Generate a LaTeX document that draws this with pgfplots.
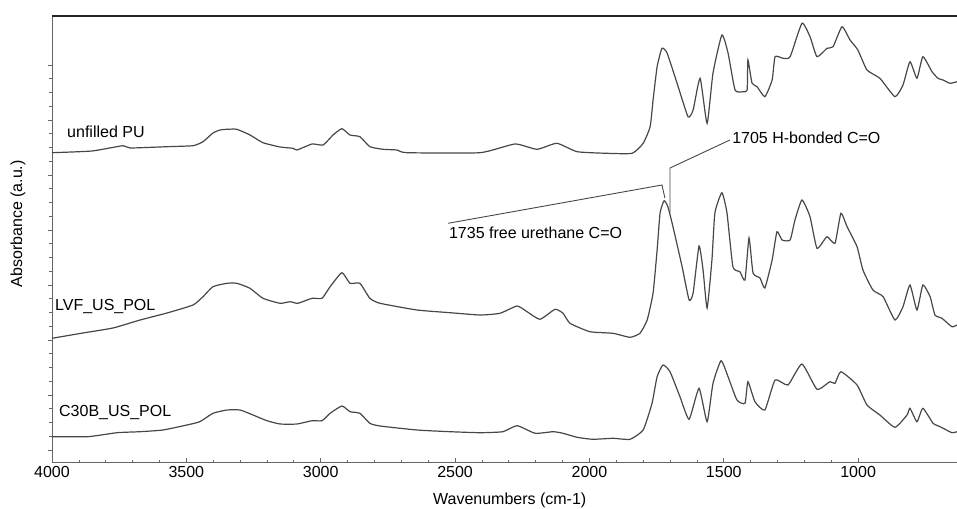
\documentclass[border=0pt]{standalone}
\usepackage{fontspec}
\setmainfont{Liberation Sans}
\usepackage{pgfplots}
\pgfplotsset{compat=1.18}
\definecolor{spec}{HTML}{474747}
\newcommand\lbl{\fontsize{16bp}{19bp}\selectfont}

\begin{document}
\begin{tikzpicture}
\begin{axis}[
  name=ax, at={(0,0)}, anchor=south west,
  scale only axis, width=913.6bp, height=446bp,
  x dir=reverse, xmin=600, xmax=4000, ymin=0, ymax=446,
  axis line style={black!60, line width=0.9bp},
  xtick={1000,1500,2000,2500,3000,3500,4000}, minor x tick num=4,
  ytick={12,67,122,177,232,287,342,397}, minor y tick num=3,
  yticklabels={},
  xtick pos=bottom, ytick pos=left,
  xtick align=inside, ytick align=outside,
  major tick length=4bp, minor tick length=2.5bp,
  tick style={black!60, line width=0.7bp},
  /pgf/number format/1000 sep={},
  /pgf/number format/assume math mode=true,
  tick label style={font=\lbl},
  xticklabel style={yshift=-1bp},
  xlabel={Wavenumbers (cm-1)},
  ylabel={Absorbance (a.u.)},
  label style={font=\lbl},
  xlabel style={at={(axis description cs:0.501,-0.0852)}, anchor=center},
  ylabel style={at={(axis description cs:-0.0372,0.534)}, anchor=center},
  clip=false,
]
% unfilled PU
\addplot[spec, no markers, line width=1.2bp, smooth, tension=0.3] coordinates {
(4000,309.3)(3851,311)(3736,316.3)(3710,314)(3572,315.3)(3475,316.3)(3438,320.3)
(3401,329)(3375,332)(3349,332.7)(3312,332.7)(3263,327)(3215,319.3)(3151,315)
(3103,313.7)(3088,312)(3032,318)(2991,317)(2954,327)(2921,333.3)(2891,327)
(2854,325.3)(2817,315.3)(2768,312.7)(2716,312)(2679,309.3)(2407,309.3)
(2277,318)(2195,312.7)(2121,318.7)(2046,310.3)(1935,308.7)(1841,308.7)
(1800,318.7)(1774,335.3)(1763,362)(1748,395.3)(1730,413.7)(1711,409)
(1674,379)(1633,345.3)(1614,352)(1588,383.7)(1562,338.7)(1540,389)
(1507,427)(1484,409)(1458,372)(1428,370.3)(1413,372)(1410,402)(1395,379)
(1376,375.3)(1347,365.3)(1320,382)(1309,405.3)(1280,403.7)(1253,405.3)
(1209,438.7)(1179,425.3)(1153,405.3)(1116,413.7)(1093,415.3)(1060,435.3)
(1030,422)(1001,412)(967,392)(919,383.7)(863,365.3)(833,377)(807,400.3)
(781,383.7)(759,405.3)(725,390.3)(703,383.7)(684,382)(658,378.7)(632,380.3)
};
% LVF_US_POL
\addplot[spec, no markers, line width=1.2bp, smooth, tension=0.3] coordinates {
(4000,123.7)(3885,129)(3773,134)(3672,142)(3572,149)(3475,157)(3438,165.3)
(3401,175.3)(3349,178.7)(3312,178.7)(3263,173.7)(3215,163.7)(3151,158.7)
(3114,160.3)(3085,158.7)(3032,163.7)(2995,163.7)(2965,175.3)(2921,189.3)
(2891,178.7)(2854,178.7)(2817,163.7)(2779,158.7)(2642,152)(2519,149.3)
(2407,147)(2333,148.7)(2269,156)(2232,150.3)(2184,142.7)(2128,152.7)
(2098,148.7)(2072,138.7)(1998,130.3)(1912,128.7)(1849,124.7)(1812,128.7)
(1785,142)(1763,169)(1748,212)(1737,249)(1722,261.3)(1708,255.3)(1689,235.3)
(1655,195.3)(1629,162)(1614,169)(1592,216)(1577,192)(1562,154)(1544,202)
(1533,249)(1507,269.3)(1488,249)(1466,195.3)(1440,190.3)(1421,182)(1406,224)
(1391,189)(1365,184)(1347,174)(1320,202)(1302,230.3)(1283,222)(1253,222)
(1235,242)(1209,262)(1179,245.3)(1153,213.7)(1116,225.3)(1086,218.7)
(1064,248.7)(1041,235.3)(1004,215.3)(982,192)(945,172)(907,165.3)(863,142)
(833,155.3)(807,177)(781,152)(759,177)(732,165.3)(714,147)(688,143.7)
(651,135.3)(632,137)
};
% C30B_US_POL
\addplot[spec, no markers, line width=1.2bp, smooth, tension=0.3] coordinates {
(4000,25.3)(3866,25.3)(3758,29.3)(3672,30.3)(3587,32)(3498,37)(3450,40.3)
(3401,48.7)(3349,52)(3300,52)(3252,47)(3200,41.3)(3151,38)(3088,38)
(3032,41.3)(2995,41.3)(2965,48.7)(2921,56)(2891,50.3)(2854,48.7)(2817,38.7)
(2779,36)(2642,32)(2519,30.3)(2407,29.3)(2322,30.3)(2269,36.3)(2202,28.7)
(2135,30.3)(2098,28.7)(2046,24.7)(1987,22.7)(1912,23.7)(1849,22.7)(1800,32)
(1767,58.7)(1748,85.3)(1726,97)(1700,90.3)(1663,65.3)(1629,42.7)(1592,73.7)
(1562,40.3)(1540,78.7)(1510,101.3)(1484,85.3)(1451,62)(1421,58.7)(1410,80.3)
(1384,60.3)(1347,52)(1309,82)(1261,77)(1209,98)(1153,72.7)(1105,80.3)
(1086,78.7)(1064,90.3)(1004,77)(967,57)(919,47)(863,34.7)(818,47)(807,53.7)
(781,40.3)(759,53.7)(721,38.7)(695,35.3)(651,29.3)(632,30.3)
};
% top frame line
\draw[black!85, line width=1.6bp] (axis cs:4000,446) -- (axis cs:600,446);
% annotations
\draw[spec, line width=0.9bp] (axis cs:2526,238.7) -- (axis cs:1730,277) -- (axis cs:1719,264);
\draw[spec, line width=0.9bp] (axis cs:1700,249) -- (axis cs:1700,294) -- (axis cs:1477,322);
\node[anchor=west, inner sep=0, font=\lbl] at (axis cs:3944,330.3) {unfilled PU};
\node[anchor=west, inner sep=0, font=\lbl] at (axis cs:3989,155) {LVF\_US\_POL};
\node[anchor=west, inner sep=0, font=\lbl] at (axis cs:3974,49.3) {C30B\_US\_POL};
\node[anchor=west, inner sep=0, font=\lbl] at (axis cs:2523,229) {1735 free urethane C=O};
\node[anchor=west, inner sep=0, font=\lbl] at (axis cs:1469,324) {1705 H-bonded C=O};
\end{axis}
\pgfresetboundingbox
\path (-52bp,-47bp) rectangle (905bp,462bp);
\end{tikzpicture}
\end{document}
